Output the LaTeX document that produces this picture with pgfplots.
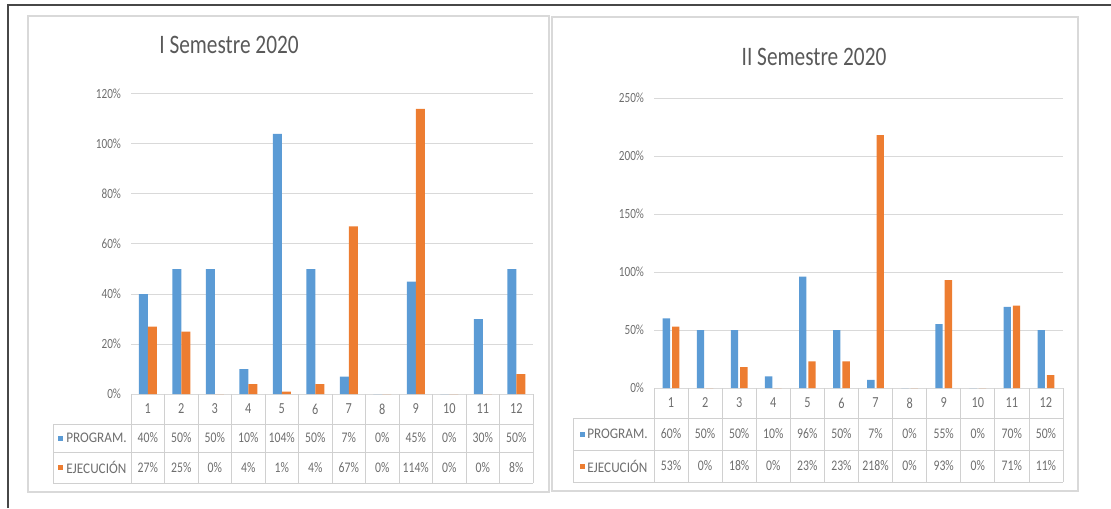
\documentclass[border=0pt]{standalone}
\usepackage{pgfplots}
\pgfplotsset{compat=1.18}
\usepackage{fontspec}
\setmainfont{Carlito}
\newfontfamily\cond{Carlito}[FakeStretch=0.8]
\newfontfamily\titf{Carlito}[FakeStretch=0.8]
\newfontfamily\labf{Carlito}[FakeStretch=0.9]
\definecolor{cblue}{HTML}{5B9BD5}
\definecolor{corange}{HTML}{ED7D31}
\definecolor{gridc}{HTML}{D9D9D9}
\definecolor{txt}{HTML}{6E6E6E}
\definecolor{titc}{HTML}{595959}
\definecolor{tabc}{HTML}{D0D0D0}

\pgfplotsset{
  semchart/.style={
    scale only axis, anchor=south west,
    xmin=0.5, xmax=12.5, ymin=0,
    axis line style={draw=none},
    xtick=\empty,
    tick style={draw=none},
    yticklabel style={font=\cond\fontsize{10.5pt}{12pt}\selectfont, text=txt, xshift=-4pt},
    ymajorgrids, major grid style={gridc, line width=0.75pt},
    clip=false,
  }
}

\begin{document}
\begin{tikzpicture}
\begin{scope}[x=0.75pt,y=0.75pt]
\path[use as bounding box] (0,0) rectangle (1111,508);
% outer frame
\draw[line width=1.4pt, color=black!72] (8,0) -- (8,503) -- (1111,503);
% chart boxes
\draw[gridc, line width=0.9pt] (28,16) rectangle (549,492);
\draw[gridc, line width=0.9pt] (552,17) rectangle (1078,491);
\end{scope}

% ---------- Chart 1 ----------
\begin{axis}[semchart,
  at={(98.25pt,85.5pt)}, width=301.5pt, height=225pt,
  ymax=120, ytick={0,20,40,60,80,100,120},
  yticklabels={0\%,20\%,40\%,60\%,80\%,100\%,120\%},
  ybar=0pt, bar width=6.75pt]
\addplot[fill=cblue, draw=none] coordinates {(1,40) (2,50) (3,50) (4,10) (5,104) (6,50) (7,7) (8,0) (9,45) (10,0) (11,30) (12,50)};
\addplot[fill=corange, draw=none] coordinates {(1,27) (2,25) (3,0) (4,4) (5,1) (6,4) (7,67) (8,0) (9,114) (10,0) (11,0) (12,8)};
\end{axis}

% ---------- Chart 2 ----------
\begin{axis}[semchart,
  at={(490.5pt,90pt)}, width=306.75pt, height=217.5pt,
  ymax=250, ytick={0,50,100,150,200,250},
  yticklabels={0\%,50\%,100\%,150\%,200\%,250\%},
  ybar=1.5pt, bar width=5.5pt]
\addplot[fill=cblue, draw=none] coordinates {(1,60) (2,50) (3,50) (4,10) (5,96) (6,50) (7,7) (8,0) (9,55) (10,0) (11,70) (12,50)};
\addplot[fill=corange, draw=none] coordinates {(1,53) (2,0) (3,18) (4,0) (5,23) (6,23) (7,218) (8,0) (9,93) (10,0) (11,71) (12,11)};
\end{axis}

\begin{scope}[x=0.75pt,y=0.75pt]
\node[font=\titf\fontsize{20pt}{22pt}\selectfont, text=titc] at (229,463) {I Semestre 2020};
% table 1
\foreach \k in {0,...,12} \draw[tabc, line width=0.6pt] ({131+33.5*\k},114) -- ({131+33.5*\k},25);
\draw[tabc, line width=0.6pt] (53,84) -- (533.0,84);
\draw[tabc, line width=0.6pt] (53,56) -- (533.0,56);
\draw[tabc, line width=0.6pt] (53,25) -- (533.0,25);
\draw[tabc, line width=0.6pt] (53,84) -- (53,25);
\foreach \i in {1,...,12} \node[font=\cond\fontsize{11.5pt}{13pt}\selectfont, text=txt] at ({131+33.5*(\i-0.5)},99) {\i};
\foreach \v [count=\i] in {40\%,50\%,50\%,10\%,104\%,50\%,7\%,0\%,45\%,0\%,30\%,50\%}
  \node[font=\cond\fontsize{11pt}{13pt}\selectfont, text=txt] at ({131+33.5*(\i-0.5)},70) {\v};
\foreach \v [count=\i] in {27\%,25\%,0\%,4\%,1\%,4\%,67\%,0\%,114\%,0\%,0\%,8\%}
  \node[font=\cond\fontsize{11pt}{13pt}\selectfont, text=txt] at ({131+33.5*(\i-0.5)},40.5) {\v};
\fill[cblue] (58,67.5) rectangle (63,72.5);
\fill[corange] (58,38) rectangle (63,43);
\node[anchor=west, inner sep=0pt, font=\labf\fontsize{11pt}{13pt}\selectfont, text=txt] at (66,70) {PROGRAM.};
\node[anchor=west, inner sep=0pt, font=\labf\fontsize{11pt}{13pt}\selectfont, text=txt] at (66,40.5) {EJECUCIÓN};

\node[font=\titf\fontsize{20pt}{22pt}\selectfont, text=titc] at (814,451) {II Semestre 2020};
% table 2
\foreach \k in {0,...,12} \draw[tabc, line width=0.6pt] ({654+34.083*\k},120) -- ({654+34.083*\k},26);
\draw[tabc, line width=0.6pt] (573,90) -- (1063,90);
\draw[tabc, line width=0.6pt] (573,58) -- (1063,58);
\draw[tabc, line width=0.6pt] (573,26) -- (1063,26);
\draw[tabc, line width=0.6pt] (573,90) -- (573,26);
\foreach \i in {1,...,12} \node[font=\cond\fontsize{11.5pt}{13pt}\selectfont, text=txt] at ({654+34.083*(\i-0.5)},105) {\i};
\foreach \v [count=\i] in {60\%,50\%,50\%,10\%,96\%,50\%,7\%,0\%,55\%,0\%,70\%,50\%}
  \node[font=\cond\fontsize{11pt}{13pt}\selectfont, text=txt] at ({654+34.083*(\i-0.5)},74) {\v};
\foreach \v [count=\i] in {53\%,0\%,18\%,0\%,23\%,23\%,218\%,0\%,93\%,0\%,71\%,11\%}
  \node[font=\cond\fontsize{11pt}{13pt}\selectfont, text=txt] at ({654+34.083*(\i-0.5)},42) {\v};
\fill[cblue] (580,71.5) rectangle (585,76.5);
\fill[corange] (580,39.5) rectangle (585,44.5);
\node[anchor=west, inner sep=0pt, font=\labf\fontsize{11pt}{13pt}\selectfont, text=txt] at (587,74) {PROGRAM.};
\node[anchor=west, inner sep=0pt, font=\labf\fontsize{11pt}{13pt}\selectfont, text=txt] at (587,42) {EJECUCIÓN};
\end{scope}
\end{tikzpicture}
\end{document}
